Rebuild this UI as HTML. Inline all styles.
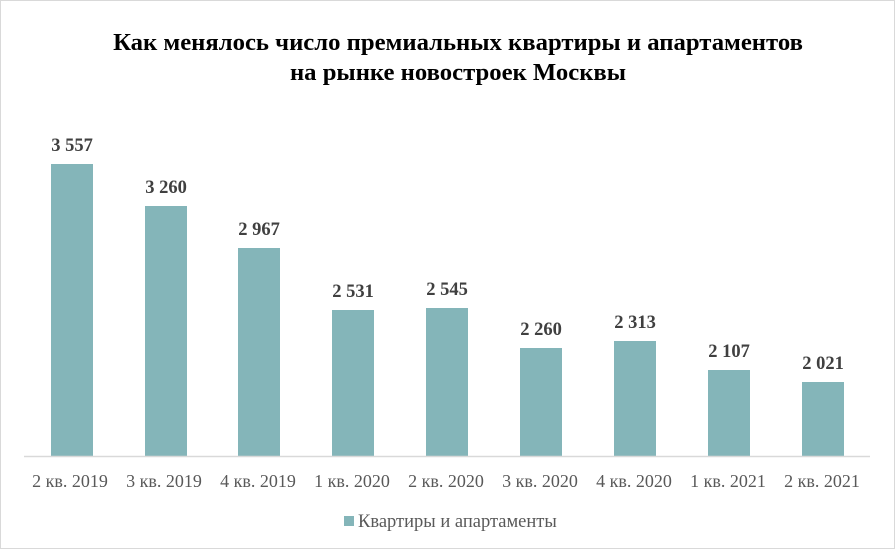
<!DOCTYPE html>
<html><head><meta charset="utf-8"><style>
html,body{margin:0;padding:0;background:#fff}
svg{display:block}
</style></head><body>
<svg width="895" height="549" viewBox="0 0 895 549" xmlns="http://www.w3.org/2000/svg" font-family="'Liberation Serif', serif">
<rect x="0.5" y="0.5" width="894" height="548" fill="#fff" stroke="#d9d9d9" stroke-width="1"/>
<text x="458" y="50" text-anchor="middle" font-size="24.7" font-weight="bold" fill="#000">Как менялось число премиальных квартиры и апартаментов</text>
<text x="458" y="80" text-anchor="middle" font-size="24.7" font-weight="bold" fill="#000">на рынке новостроек  Москвы</text>
<g fill="#84b5b9">
<rect x="51" y="164" width="42" height="292"/>
<rect x="145" y="206" width="42" height="250"/>
<rect x="238" y="248" width="42" height="208"/>
<rect x="332" y="310" width="42" height="146"/>
<rect x="426" y="308" width="42" height="148"/>
<rect x="520" y="348" width="42" height="108"/>
<rect x="614" y="341" width="42" height="115"/>
<rect x="708" y="370" width="42" height="86"/>
<rect x="802" y="382" width="42" height="74"/>
</g>
<line x1="24" y1="456.5" x2="870" y2="456.5" stroke="#d9d9d9" stroke-width="1.5"/>
<g font-size="18.5" font-weight="bold" fill="#404040" text-anchor="middle">
<text x="72" y="151">3 557</text>
<text x="166" y="193">3 260</text>
<text x="259" y="235">2 967</text>
<text x="353" y="297">2 531</text>
<text x="447" y="295">2 545</text>
<text x="541" y="335">2 260</text>
<text x="635" y="328">2 313</text>
<text x="729" y="357">2 107</text>
<text x="823" y="369">2 021</text>
</g>
<g font-size="18" fill="#595959" text-anchor="middle">
<text x="70" y="487">2 кв. 2019</text>
<text x="164" y="487">3 кв. 2019</text>
<text x="258" y="487">4 кв. 2019</text>
<text x="352" y="487">1 кв. 2020</text>
<text x="446" y="487">2 кв. 2020</text>
<text x="540" y="487">3 кв. 2020</text>
<text x="634" y="487">4 кв. 2020</text>
<text x="728" y="487">1 кв. 2021</text>
<text x="822" y="487">2 кв. 2021</text>
</g>
<rect x="344" y="516" width="10" height="10" fill="#84b5b9"/>
<text x="358" y="527" font-size="18.5" fill="#595959">Квартиры и апартаменты</text>
</svg>
</body></html>
